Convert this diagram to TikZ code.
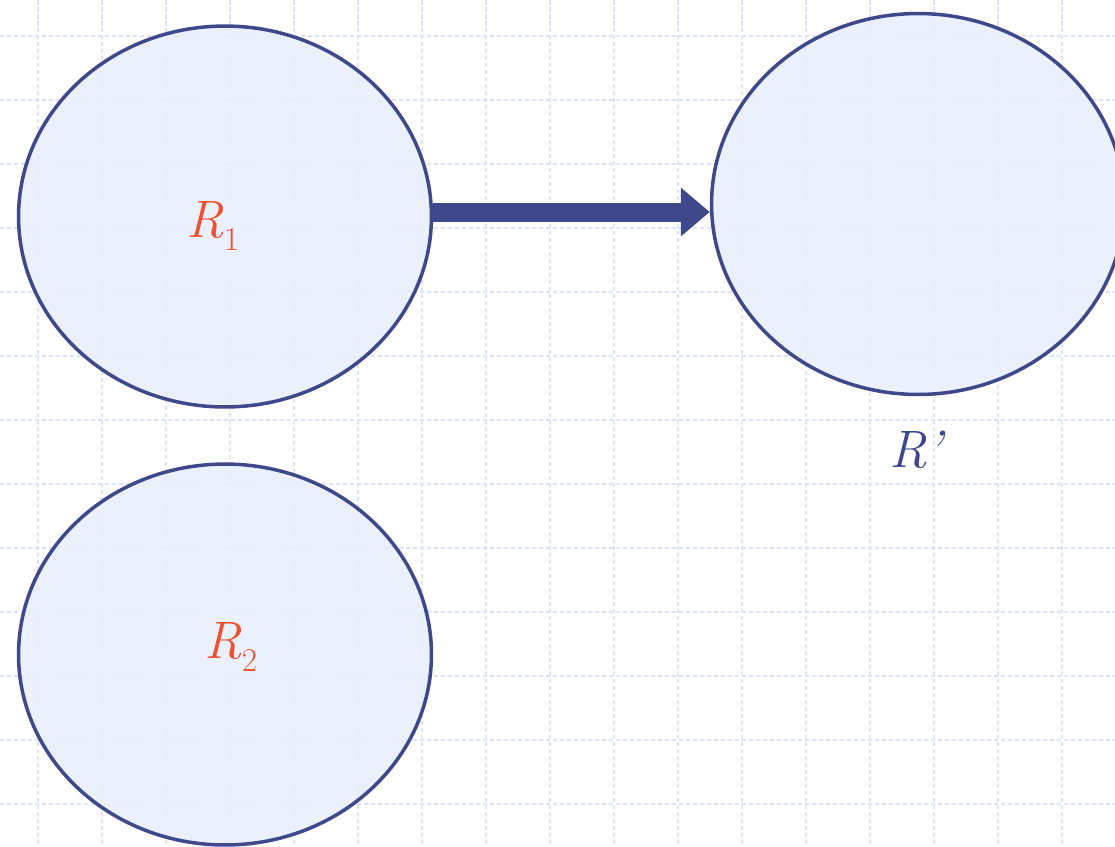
\documentclass[tikz,border=0pt]{standalone}
\usepackage{fontspec}
\usetikzlibrary{shapes.geometric,arrows.meta}
\definecolor{gridblue}{RGB}{220,228,250}
\definecolor{ellfill}{RGB}{232,239,252}
\definecolor{ellline}{RGB}{64,72,140}
\definecolor{labred}{RGB}{240,80,45}
\definecolor{labblue}{RGB}{61,70,144}
\newcommand{\sub}[1]{\raisebox{-0.26cm}{\fontsize{19}{22}\selectfont\upshape #1}}

\begin{document}
\begin{tikzpicture}[
  x=0.02cm, y=-0.02cm,
  region/.style={ellipse, draw=ellline, line width=0.07cm, fill=ellfill, fill opacity=0.85, draw opacity=1,
    minimum width=8.26cm, minimum height=7.62cm, inner sep=0pt},
  reglabel/.style={font=\fontsize{30}{34}\selectfont\itshape, inner sep=0pt},
  grid line/.style={draw=gridblue, line width=0.03cm, dash pattern=on 0.09cm off 0.05cm},
  map arrow/.style={-{Triangle[length=0.58cm,width=0.94cm]}, line width=0.38cm, draw=ellline}
]
\useasboundingbox (0,0) rectangle (1115,846);
\clip (0,0) rectangle (1115,846);

% background grid
\foreach \gx in {38,102,...,1115} \draw[grid line] (\gx,0) -- (\gx,846);
\foreach \gy in {36,100,...,846} \draw[grid line] (0,\gy) -- (1115,\gy);

\node[region] (R1) at (225,216.5) {};
\node[region] (R2) at (225,654.5) {};
\node[region] (Rp) at (918,204) {};

\node[reglabel, text=labred, anchor=base west] (l1) at (186,237) {R\sub{1}};
\node[reglabel, text=labred, anchor=base west] (l2) at (204,658) {R\sub{2}};
\node[reglabel, text=labblue, anchor=base west] (lp) at (889,467) {R’};

\coordinate (a0) at ([yshift=0.09cm]R1.east);
\draw[map arrow] (a0) -- (a0 -| Rp.west);
\end{tikzpicture}
\end{document}
